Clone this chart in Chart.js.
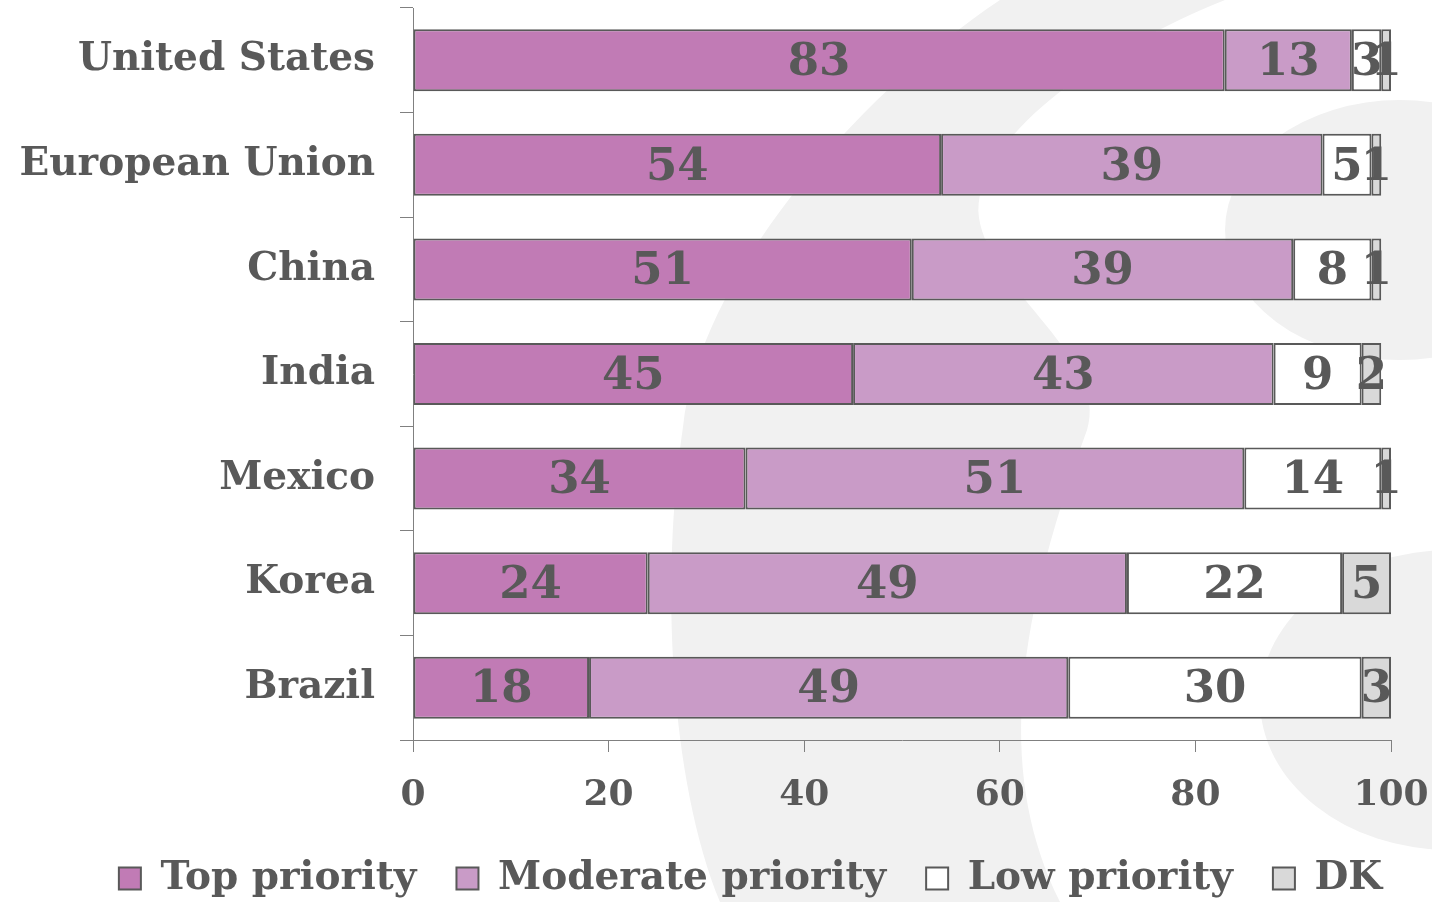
<!DOCTYPE html>
<html>
<head>
<meta charset="utf-8">
<script src="https://cdn.jsdelivr.net/npm/chart.js@4.4.1/dist/chart.umd.min.js"></script>
<style>
  body { margin: 0; background: #fff; }
  #wrap { width: 1432px; height: 902px; }
</style>
</head>
<body>
<div id="wrap"><canvas id="priorityChart" width="1432" height="902"></canvas></div>
<script>
    // categories
    const countries = ['United States', 'European Union', 'China', 'India', 'Mexico', 'Korea', 'Brazil'];
    // series (%)
    const topPriority = [83, 54, 51, 45, 34, 24, 18];
    const moderatePriority = [13, 39, 39, 43, 51, 49, 49];
    const lowPriority = [3, 5, 8, 9, 14, 22, 30];
    const dontKnow = [1, 1, 1, 2, 1, 5, 3];
    const seriesNames = ['Top priority', 'Moderate priority', 'Low priority', 'DK'];
    const barColors = ['#c17bb5', '#c99bc7', '#ffffff', '#d9d9d9'];
    const xTickStep = 20;

    const textColor = '#595959';
    const axisColor = '#808080';
    const fontFamily = "'DejaVu Serif', serif";

    // light grey watermark shapes behind the chart
    const watermark = {
        id: 'watermark',
        beforeDraw(chart) {
            const c = chart.ctx;
            c.save();
            c.fillStyle = '#f1f1f1';
            c.beginPath();
            c.moveTo(1000, 0);
            c.bezierCurveTo(850, 100, 700, 280, 683, 427);
            c.bezierCurveTo(660, 580, 670, 780, 720, 902);
            c.lineTo(1060, 902);
            c.bezierCurveTo(1000, 780, 1010, 640, 1087, 430);
            c.bezierCurveTo(1110, 360, 990, 290, 979, 218);
            c.bezierCurveTo(970, 140, 1100, 50, 1225, 0);
            c.closePath();
            c.fill();
            c.beginPath();
            c.ellipse(1400, 230, 175, 130, 0, 0, Math.PI * 2);
            c.fill();
            c.beginPath();
            c.ellipse(1450, 700, 190, 150, 0, 0, Math.PI * 2);
            c.fill();
            c.restore();
        }
    };

    // 数值标签，画在每段的中间
    const barLabels = {
        id: 'barLabels',
        afterDatasetsDraw(chart) {
            const c = chart.ctx;
            c.save();
            c.font = `bold 45px ${fontFamily}`;
            c.fillStyle = textColor;
            c.textAlign = 'center';
            c.textBaseline = 'middle';
            chart.data.datasets.forEach((ds, di) => {
                chart.getDatasetMeta(di).data.forEach((bar, i) => {
                    c.fillText(ds.data[i], (bar.x + bar.base) / 2, bar.y + 3);
                });
            });
            c.restore();
        }
    };

    // move the legend row down/right a little
    const legendShift = {
        id: 'legendShift',
        afterLayout(chart) {
            const lg = chart.legend;
            lg.top += 6; lg.bottom += 6;
            lg.left += 55; lg.right += 55;
        }
    };

    // no extra padding from tick labels, the layout padding decides
    function noScalePadding(s) {
        s.paddingTop = 0; s.paddingBottom = 0;
        s.paddingLeft = 0; s.paddingRight = 0;
    }

    const datasets = [topPriority, moderatePriority, lowPriority, dontKnow].map((data, i) => ({
        label: seriesNames[i],
        data: data,
        backgroundColor: barColors[i],
        borderColor: textColor,
        borderWidth: 2,
        borderSkipped: false,
        barPercentage: 0.593,
        categoryPercentage: 1
    }));

    const ctx = document.getElementById('priorityChart').getContext('2d');
    const priorityChart = new Chart(ctx, {
        type: 'bar',
        data: { labels: countries, datasets: datasets },
        plugins: [watermark, barLabels, legendShift],
        options: {
            indexAxis: 'y',
            responsive: false,
            animation: false,
            devicePixelRatio: 1,
            layout: { autoPadding: false, padding: { top: 8, right: 41, left: 0, bottom: 0 } },
            scales: {
                x: {
                    stacked: true,
                    min: 0,
                    max: 100,
                    ticks: {
                        stepSize: xTickStep,
                        color: textColor,
                        padding: 26,
                        font: { family: fontFamily, size: 36, weight: 'bold', lineHeight: 1 }
                    },
                    grid: { drawOnChartArea: false, tickLength: 12, color: axisColor },
                    border: { color: axisColor, width: 1 },
                    afterFit: (s) => { s.height = 73; noScalePadding(s); }
                },
                y: {
                    stacked: true,
                    ticks: {
                        color: textColor,
                        padding: 25,
                        font: { family: fontFamily, size: 39, weight: 'bold' }
                    },
                    grid: { drawOnChartArea: false, tickLength: 13, offset: true, color: axisColor },
                    border: { color: axisColor, width: 1 },
                    afterFit: (s) => { s.width = 413; noScalePadding(s); }
                }
            },
            plugins: {
                legend: {
                    position: 'bottom',
                    labels: {
                        boxWidth: 22,
                        boxHeight: 22,
                        padding: 40,
                        color: textColor,
                        font: { family: fontFamily, size: 39, weight: 'bold' }
                    }
                },
                tooltip: { enabled: false }
            }
        }
    });
</script>
</body>
</html>
